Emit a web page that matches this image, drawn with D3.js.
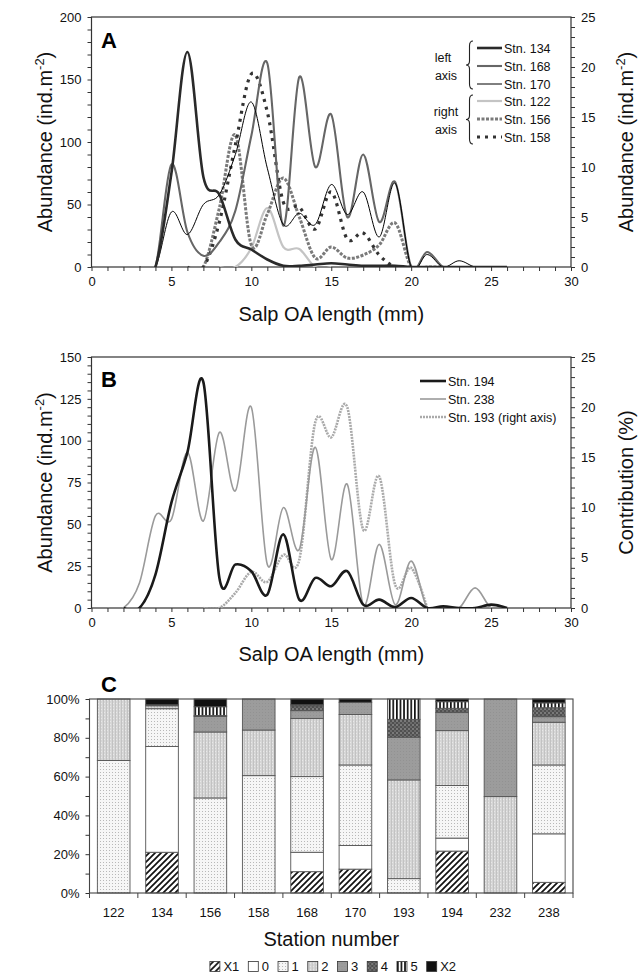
<!DOCTYPE html>
<html><head><meta charset="utf-8">
<script src="https://cdn.jsdelivr.net/npm/d3@7"></script>
<style>body{margin:0;background:#fff}</style>
</head><body>
<svg id="chart" width="643" height="973"></svg>
<script>
// ---------- DATA ----------
// Panel A (length in mm, abundance)
const lengthA = [3,4,5,6,7,8,9,10,11,12,13,14,15,16,17,18,19,20,21,22,23,24,25,26];
const stn134 = [0,0,75,172,72,58,22,14,6,1,1,2,3,2,1,1,1,0,0,0,0,0,0,0];
const stn168 = [0,0,82,28,9,20,45,105,163,33,152,80,122,40,90,36,68,0,12,0,0,0,null,null];
const stn170 = [0,0,44,26,50,58,90,132,79,34,43,34,66,42,60,24,67,0,10,0,5,0,0,null];
const stn122 = [null,null,null,null,null,0,0,1.9,5.9,2.0,1.8,0,0,null,null,null,null,null,null,null,null,null,null,null];
const stn156 = [null,null,null,0,0,5.9,13.2,2.2,5.3,8.9,5.0,0.9,2.0,0.9,1.2,2.2,4.4,0,0,0,null,null,null,null];
const stn158 = [null,null,null,0,0,4.5,12.2,19.3,15.5,6.5,6.0,3.8,7.5,2.8,3.4,1.2,0,0,null,null,null,null,null,null];
// Panel B
const lengthB = [1,2,3,4,5,6,7,8,9,10,11,12,13,14,15,16,17,18,19,20,21,22,23,24,25,26];
const stn194 = [null,0,0,20,63,93,135,18,26,22,8,44,5,18,13,22,2,5,0.5,6,0,1,0,0,2,0];
const stn238 = [0,0,15,55,53,93,52,105,70,120,26,60,35,96,29,74,2,38,2,28,0,0,0,12,0,0];
const stn193 = [null,null,null,null,null,null,0,0,1.5,3.6,2.6,5.3,4.8,18.5,17.0,20.0,7.8,13.1,2.3,4.0,0,null,null,null,null,null];
// Panel C (% contribution per stage)
const stations = ["122","134","156","158","168","170","193","194","232","238"];
const stageKeys = ["X1","0","1","2","3","4","5","X2"];
const stX1 = [0,21,0,0,11,12.3,0,21.6,0,5.5];
const st0  = [0,54.5,0,0,10,12.2,0,6.7,0,25];
const st1  = [68.3,19.5,49,60.5,39,41.5,7.4,27.1,0,35.5];
const st2  = [31.7,1.5,34,23.5,30,26,50.9,28.3,49.7,22];
const st3  = [0,0.5,8,16,4,6.3,22,9.3,50.3,2.9];
const st4  = [0,0,0.5,0,2.5,0,9.2,2.2,0,4.6];
const st5  = [0,0,4.5,0,0.5,0,10.5,3.4,0,2.5];
const stX2 = [0,3,4,0,3,1.7,0,1.4,0,2];
// Tick labels
const xTickLabels = [0,5,10,15,20,25,30];
const yTicksAleft = [0,50,100,150,200];
const yTicksAright = [0,5,10,15,20,25];
const yTicksBleft = [0,25,50,75,100,125,150];
const yTicksBright = [0,5,10,15,20,25];
const yTicksC = [0,20,40,60,80,100];

// ---------- SETUP ----------
const FONT = "'Liberation Sans', Arial, Helvetica, sans-serif";
const svg = d3.select("#chart").attr("font-family", FONT);
const defs = svg.append("defs");

const X0 = 91.5, X1p = 571;
const A = {top:17, bottom:267};
const B = {top:357, bottom:608};

const xA = d3.scaleLinear().domain([0,30]).range([X0,X1p]);
const yAl = d3.scaleLinear().domain([0,200]).range([A.bottom,A.top]);
const yAr = d3.scaleLinear().domain([0,25]).range([A.bottom,A.top]);
const yBl = d3.scaleLinear().domain([0,150]).range([B.bottom,B.top]);
const yBr = d3.scaleLinear().domain([0,25]).range([B.bottom,B.top]);

function axis(gen, transform, minor, major, fs, pad) {
  const g = svg.append("g").attr("transform", transform)
    .call(gen.tickValues(minor).tickSize(4).tickPadding(pad)
      .tickFormat(d => major.some(m => Math.abs(m-d) < 1e-6) ? d : ""));
  g.select(".domain").remove();
  g.attr("font-family", FONT).attr("font-size", fs);
  g.selectAll("line").attr("stroke", "#333");
  g.selectAll("text").attr("fill", "#111");
  return g;
}

function frame(top, bottom) {
  svg.append("rect").attr("x", X0).attr("y", top).attr("width", X1p-X0).attr("height", bottom-top)
    .attr("fill", "none").attr("stroke", "#333").attr("stroke-width", 1.2);
}

function clip(id, top, bottom) {
  defs.append("clipPath").attr("id", id).append("rect")
    .attr("x", X0).attr("y", top-5).attr("width", X1p-X0).attr("height", bottom-top+5);
}
clip("clipA", A.top, A.bottom);
clip("clipB", B.top, B.bottom);

function drawSeries(xs, vals, y, clipId, style) {
  const pts = xs.map((x,i) => ({x, v: vals[i]}));
  const line = d3.line().defined(d => d.v != null)
    .x(d => xA(d.x)).y(d => y(d.v)).curve(d3.curveCardinal.tension(0));
  svg.append("path").attr("d", line(pts)).attr("fill","none")
    .attr("clip-path", `url(#${clipId})`)
    .attr("stroke", style.c).attr("stroke-width", style.w)
    .attr("stroke-dasharray", style.dash || null)
    .attr("stroke-linejoin","round");
}

function vTitle(x, yc, parts) {
  const t = svg.append("text").attr("transform", `translate(${x},${yc}) rotate(-90)`)
    .attr("text-anchor","middle").attr("font-size",20).attr("fill","#111");
  parts.forEach(p => {
    const s = t.append("tspan").text(p.t);
    if (p.sup) s.attr("dy", -8).attr("font-size", 13);
    if (p.after) s.attr("dy", 8);
  });
}
const abundanceParts = [{t:"Abundance (ind.m"},{t:"-2",sup:true},{t:")",after:true}];

// ---------- STYLES ----------
const sty = {
  s134:{c:"#2a2a2a", w:2.6},
  s168:{c:"#666", w:2.1},
  s170:{c:"#000", w:1},
  s122:{c:"#c4c4c4", w:2.2},
  s156:{c:"#7a7a7a", w:3, dash:"3,1.5"},
  s158:{c:"#333", w:3.2, dash:"3,5"},
  s194:{c:"#1a1a1a", w:2.6},
  s238:{c:"#9a9a9a", w:1.6},
  s193:{c:"#aaa", w:2.6, dash:"2,1"}
};

// ---------- PANEL A ----------
const minorX = d3.range(0, 30.01, 1);
axis(d3.axisBottom(xA), `translate(0,${A.bottom})`, minorX, xTickLabels, 13, 6);
axis(d3.axisLeft(yAl), `translate(${X0},0)`, d3.range(0,200.01,10), yTicksAleft, 13, 6);
axis(d3.axisRight(yAr), `translate(${X1p},0)`, d3.range(0,25.01,1), yTicksAright, 13, 6);
frame(A.top, A.bottom);

drawSeries(lengthA, stn122, yAr, "clipA", sty.s122);
drawSeries(lengthA, stn156, yAr, "clipA", sty.s156);
drawSeries(lengthA, stn158, yAr, "clipA", sty.s158);
drawSeries(lengthA, stn168, yAl, "clipA", sty.s168);
drawSeries(lengthA, stn170, yAl, "clipA", sty.s170);
drawSeries(lengthA, stn134, yAl, "clipA", sty.s134);

svg.append("text").attr("x",101).attr("y",48).attr("font-size",22).attr("font-weight","bold").text("A");
vTitle(52, (A.top+A.bottom)/2, abundanceParts);
vTitle(633, (A.top+A.bottom)/2, abundanceParts);
svg.append("text").attr("x",(X0+X1p)/2).attr("y",321).attr("text-anchor","middle").attr("font-size",20).attr("fill","#111").text("Salp OA length (mm)");

// Legend A
const legA = [
  {n:"Stn. 134", s:sty.s134},{n:"Stn. 168", s:sty.s168},{n:"Stn. 170", s:sty.s170},
  {n:"Stn. 122", s:sty.s122},{n:"Stn. 156", s:sty.s156},{n:"Stn. 158", s:sty.s158}];
const legAy = [48,66,84,101,119,137];
legA.forEach((d,i) => {
  svg.append("line").attr("x1",477).attr("x2",502).attr("y1",legAy[i]).attr("y2",legAy[i])
    .attr("stroke",d.s.c).attr("stroke-width",d.s.w).attr("stroke-dasharray",d.s.dash||null);
  svg.append("text").attr("x",504).attr("y",legAy[i]+4.5).attr("font-size",12.5).attr("fill","#111").text(d.n);
});
function brace(x, y0, y1) {
  const ym = (y0+y1)/2;
  svg.append("path").attr("d",
    `M${x+6},${y0} Q${x+2.5},${y0} ${x+2.5},${y0+5} L${x+2.5},${ym-4} Q${x+2.5},${ym} ${x-1},${ym} Q${x+2.5},${ym} ${x+2.5},${ym+4} L${x+2.5},${y1-5} Q${x+2.5},${y1} ${x+6},${y1}`)
    .attr("fill","none").attr("stroke","#222").attr("stroke-width",1.1);
}
brace(467, 41, 89);
brace(467, 95, 144);
[["left",443,62],["axis",446,80],["right",446,116],["axis",446,134]].forEach(d =>
  svg.append("text").attr("x",d[1]).attr("y",d[2]).attr("text-anchor","middle").attr("font-size",12.5).attr("fill","#111").text(d[0]));

// ---------- PANEL B ----------
axis(d3.axisBottom(xA), `translate(0,${B.bottom})`, minorX, xTickLabels, 13, 6);
axis(d3.axisLeft(yBl), `translate(${X0},0)`, d3.range(0,150.01,5), yTicksBleft, 13, 6);
axis(d3.axisRight(yBr), `translate(${X1p},0)`, d3.range(0,25.01,1), yTicksBright, 13, 6);
frame(B.top, B.bottom);

drawSeries(lengthB, stn193, yBr, "clipB", sty.s193);
drawSeries(lengthB, stn238, yBl, "clipB", sty.s238);
drawSeries(lengthB, stn194, yBl, "clipB", sty.s194);

svg.append("text").attr("x",101).attr("y",387).attr("font-size",22).attr("font-weight","bold").text("B");
vTitle(52, (B.top+B.bottom)/2, abundanceParts);
vTitle(633, (B.top+B.bottom)/2, [{t:"Contribution (%)"}]);
svg.append("text").attr("x",(X0+X1p)/2).attr("y",661).attr("text-anchor","middle").attr("font-size",20).attr("fill","#111").text("Salp OA length (mm)");

const legB = [{n:"Stn. 194", s:sty.s194},{n:"Stn. 238", s:sty.s238},{n:"Stn. 193 (right axis)", s:sty.s193}];
const legBy = [381,399,417];
legB.forEach((d,i) => {
  svg.append("line").attr("x1",420).attr("x2",446).attr("y1",legBy[i]).attr("y2",legBy[i])
    .attr("stroke",d.s.c).attr("stroke-width",d.s.w).attr("stroke-dasharray",d.s.dash||null);
  svg.append("text").attr("x",448).attr("y",legBy[i]+4.5).attr("font-size",12.5).attr("fill","#111").text(d.n);
});

// ---------- PANEL C ----------
const C = {top:699, bottom:893, left:89.5, right:573};
function pat(id, w, h, draw) {
  const p = defs.append("pattern").attr("id",id).attr("patternUnits","userSpaceOnUse").attr("width",w).attr("height",h);
  draw(p);
}
pat("pX1", 6, 6, p => {
  p.append("rect").attr("width",6).attr("height",6).attr("fill","#fff");
  p.append("path").attr("d","M0,6 L6,0 M-1.5,1.5 L1.5,-1.5 M4.5,7.5 L7.5,4.5").attr("stroke","#111").attr("stroke-width",1.7);
});
pat("p0", 4, 4, p => p.append("rect").attr("width",4).attr("height",4).attr("fill","#fff"));
pat("p1", 3, 3, p => {
  p.append("rect").attr("width",3).attr("height",3).attr("fill","#f6f6f6");
  p.append("rect").attr("x",1).attr("y",1).attr("width",1).attr("height",1).attr("fill","#b8b8b8");
});
pat("p2", 3, 3, p => {
  p.append("rect").attr("width",3).attr("height",3).attr("fill","#d6d6d6");
  p.append("rect").attr("x",1).attr("width",1).attr("height",3).attr("fill","#c2c2c2");
  p.append("rect").attr("x",2).attr("y",1).attr("width",1).attr("height",1).attr("fill","#e8e8e8");
});
pat("p3", 3, 3, p => {
  p.append("rect").attr("width",3).attr("height",3).attr("fill","#9c9c9c");
  p.append("rect").attr("x",1).attr("y",1).attr("width",1).attr("height",1).attr("fill","#929292");
});
pat("p4", 4, 4, p => {
  p.append("rect").attr("width",4).attr("height",4).attr("fill","#505050");
  p.append("rect").attr("width",2).attr("height",2).attr("fill","#7a7a7a");
  p.append("rect").attr("x",2).attr("y",2).attr("width",2).attr("height",2).attr("fill","#6a6a6a");
});
pat("p5", 3.6, 4, p => {
  p.append("rect").attr("width",3.6).attr("height",4).attr("fill","#fff");
  p.append("rect").attr("width",1.7).attr("height",4).attr("fill","#111");
});
pat("pX2", 4, 4, p => p.append("rect").attr("width",4).attr("height",4).attr("fill","#111"));
const stageFill = {"X1":"url(#pX1)","0":"url(#p0)","1":"url(#p1)","2":"url(#p2)","3":"url(#p3)","4":"url(#p4)","5":"url(#p5)","X2":"url(#pX2)"};
const stageVals = {"X1":stX1,"0":st0,"1":st1,"2":st2,"3":st3,"4":st4,"5":st5,"X2":stX2};

const table = stations.map((s,i) => {
  const o = {station:s};
  stageKeys.forEach(k => o[k] = stageVals[k][i]);
  return o;
});
const stack = d3.stack().keys(stageKeys)(table);

const xC = d3.scaleBand().domain(stations).range([C.left, C.right]).paddingInner(0.325).paddingOuter(0.1625);
const yC = d3.scaleLinear().domain([0,100]).range([C.bottom, C.top]);

svg.append("g").selectAll("g").data(stack).join("g")
  .attr("fill", d => stageFill[d.key])
  .selectAll("rect").data(d => d.filter(e => e[1]-e[0] > 0)).join("rect")
  .attr("x", d => xC(d.data.station)).attr("width", xC.bandwidth())
  .attr("y", d => yC(d[1])).attr("height", d => yC(d[0]) - yC(d[1]))
  .attr("stroke","#555").attr("stroke-width",0.9);

svg.append("rect").attr("x",C.left).attr("y",C.top).attr("width",C.right-C.left).attr("height",C.bottom-C.top)
  .attr("fill","none").attr("stroke","#444").attr("stroke-width",1.1);
const gyc = axis(d3.axisLeft(yC), `translate(${C.left},0)`, d3.range(0,100.01,10), yTicksC, 13, 6);
gyc.selectAll("text").text(function(){ const t = d3.select(this).text(); return t === "" ? "" : t + "%"; });
const step = xC.step();
const boundaries = stations.map(s => xC(s) - (step - xC.bandwidth())/2).concat([C.right]);
svg.append("g").selectAll("line").data(boundaries).join("line")
  .attr("x1", d => d).attr("x2", d => d).attr("y1", C.bottom).attr("y2", C.bottom+5).attr("stroke","#444");
svg.append("g").selectAll("text").data(stations).join("text")
  .attr("x", d => xC(d) + xC.bandwidth()/2).attr("y", 916.5).attr("text-anchor","middle")
  .attr("font-size",13).attr("fill","#111").text(d => d);
svg.append("text").attr("x",101).attr("y",692).attr("font-size",22).attr("font-weight","bold").text("C");
svg.append("text").attr("x",(C.left+C.right)/2).attr("y",946).attr("text-anchor","middle").attr("font-size",20).attr("fill","#111").text("Station number");

// legend C
const legC = svg.append("g");
let cx = 0;
stageKeys.forEach(k => {
  const g = legC.append("g").attr("transform", `translate(${cx},0)`);
  g.append("rect").attr("x",0).attr("y",-9.5).attr("width",10).attr("height",10).attr("fill",stageFill[k]).attr("stroke","#333").attr("stroke-width",0.8);
  const t = g.append("text").attr("x",13.5).attr("y",0).attr("font-size",13).attr("fill","#111").text(k);
  cx += 13.5 + t.node().getComputedTextLength() + 9;
});
cx -= 9;
legC.attr("transform", `translate(${333 - cx/2},971)`);
</script>
</body></html>
